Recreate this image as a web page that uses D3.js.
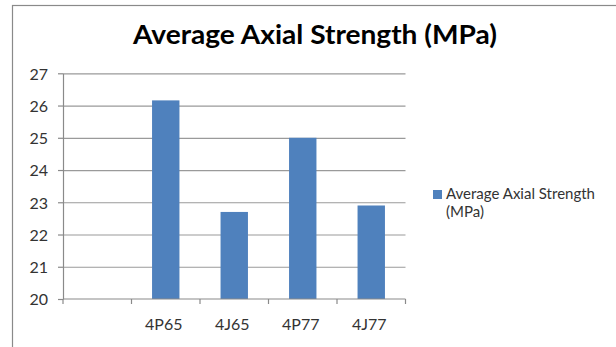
<!DOCTYPE html>
<html>
<head>
<meta charset="utf-8">
<script src="https://cdn.jsdelivr.net/npm/d3@7"></script>
<style>
  html, body { margin: 0; padding: 0; background: #fff; }
  svg { display: block; }
  text { font-family: Lato, "Open Sans", sans-serif; }
</style>
</head>
<body>
<svg id="chart" width="616" height="347"></svg>
<script>
// Average axial strength per specimen group (MPa); first slot is a blank category
const categories = ["", "4P65", "4J65", "4P77", "4J77"];
const strength = [null, 26.16, 22.7, 25.0, 22.9];
const yTicks = [20, 21, 22, 23, 24, 25, 26, 27];
const chartTitle = "Average Axial Strength (MPa)";
const seriesName = ["Average Axial Strength", "(MPa)"];

const svg = d3.select("#chart");

// chart frame
svg.append("rect")
  .attr("x", 12.5).attr("y", 5.5)
  .attr("width", 700).attr("height", 400)
  .attr("fill", "#fff").attr("stroke", "#8a8a8a").attr("stroke-width", 1.2);

const plot = { left: 63, right: 405.5, top: 73.3, bottom: 299 };

const x = d3.scaleBand()
  .domain(categories)
  .range([plot.left, plot.right])
  .paddingInner(0.6)
  .paddingOuter(0.3);

const y = d3.scaleLinear()
  .domain([yTicks[0], yTicks[yTicks.length - 1]])
  .range([plot.bottom, plot.top]);

// horizontal gridlines
svg.append("g")
  .attr("transform", `translate(${plot.left},0)`)
  .call(d3.axisLeft(y).tickValues(yTicks.slice(1)).tickSize(-(plot.right - plot.left)).tickFormat(""))
  .call(g => g.select(".domain").remove())
  .call(g => g.selectAll("line").attr("stroke", "#9a9a9a").attr("stroke-width", 1.2));

// bars
svg.append("g")
  .selectAll("rect")
  .data(categories.map((c, i) => ({ c, v: strength[i] })).filter(d => d.v != null))
  .join("rect")
  .attr("x", d => x(d.c))
  .attr("width", x.bandwidth())
  .attr("y", d => y(d.v))
  .attr("height", d => y(yTicks[0]) - y(d.v))
  .attr("fill", "#4f81bd");

// y axis
svg.append("g")
  .attr("transform", `translate(${plot.left},0)`)
  .call(d3.axisLeft(y).tickValues(yTicks).tickFormat(d3.format("d"))
    .tickSize(5).tickPadding(10).tickSizeOuter(0))
  .call(g => g.select(".domain").attr("stroke", "#8a8a8a").attr("stroke-width", 1.2))
  .call(g => g.selectAll(".tick line").attr("stroke", "#8a8a8a").attr("stroke-width", 1.2))
  .call(g => g.selectAll(".tick text")
    .attr("fill", "#333").style("font-size", "16px").attr("dy", "0.36em"));

// x axis: labels centred in each category, tick marks between categories
const xAxis = svg.append("g")
  .attr("transform", `translate(0,${plot.bottom})`)
  .call(d3.axisBottom(x).tickSize(0).tickPadding(0))
  .call(g => g.select(".domain").remove())
  .call(g => g.selectAll(".tick text")
    .attr("x", -2).attr("y", 31).attr("dy", 0)
    .attr("fill", "#333").style("font-size", "16px"));

const step = x.step();
xAxis.append("line")
  .attr("x1", plot.left).attr("x2", plot.right)
  .attr("y1", 0).attr("y2", 0)
  .attr("stroke", "#8a8a8a").attr("stroke-width", 1.2);
xAxis.selectAll(".sep")
  .data(d3.range(categories.length + 1))
  .join("line")
  .attr("class", "sep")
  .attr("x1", i => plot.left + i * step).attr("x2", i => plot.left + i * step)
  .attr("y1", 0).attr("y2", 5)
  .attr("stroke", "#8a8a8a").attr("stroke-width", 1.2);

// title
svg.append("text")
  .attr("x", 315).attr("y", 43.5)
  .attr("text-anchor", "middle")
  .attr("fill", "#000")
  .attr("textLength", 364)
  .attr("lengthAdjust", "spacingAndGlyphs")
  .style("font-size", "26px").style("font-weight", "bold")
  .text(chartTitle);

// legend
const legend = svg.append("g");
legend.append("rect")
  .attr("x", 433).attr("y", 190)
  .attr("width", 9).attr("height", 9)
  .attr("fill", "#4f81bd");
legend.append("text")
  .attr("x", 446).attr("y", 199)
  .attr("fill", "#333").style("font-size", "15px")
  .selectAll("tspan")
  .data(seriesName)
  .join("tspan")
  .attr("x", 446)
  .attr("dy", (d, i) => i === 0 ? 0 : 18)
  .text(d => d);
</script>
</body>
</html>
